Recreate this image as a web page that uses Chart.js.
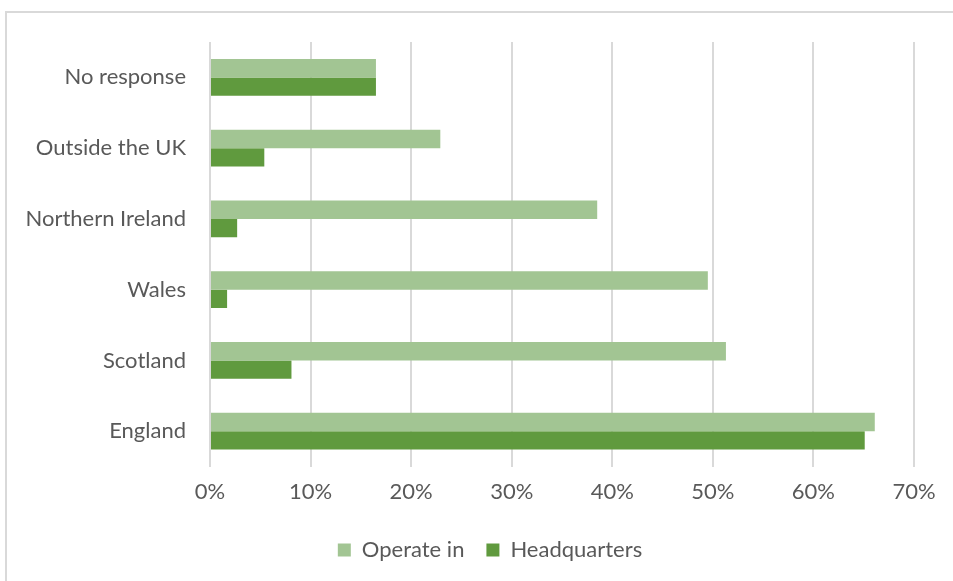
<!DOCTYPE html>
<html>
<head>
<meta charset="utf-8">
<script src="https://cdn.jsdelivr.net/npm/chart.js@4"></script>
<style>
    html, body { margin: 0; padding: 0; background: #fff; overflow: hidden; }
    #frame {
        position: absolute;
        left: 5px;
        top: 11px;
        width: 1000px;
        height: 600px;
        border: 2px solid #d9d9d9;
    }
    #wrap {
        position: absolute;
        left: 0;
        top: 0;
        width: 953px;
        height: 581px;
    }
</style>
</head>
<body>
<div id="frame"></div>
<div id="wrap"><canvas id="barChart"></canvas></div>
<script>
// Dữ liệu
const categories = ['No response', 'Outside the UK', 'Northern Ireland', 'Wales', 'Scotland', 'England'];
const operateIn = [16.5, 22.9, 38.5, 49.5, 51.3, 66.1];
const headquarters = [16.5, 5.4, 2.7, 1.7, 8.1, 65.1];
const xTicks = [0, 10, 20, 30, 40, 50, 60, 70];

Chart.defaults.font.family = "Lato, 'Liberation Sans', sans-serif";
Chart.defaults.color = '#595959';

// Dời chú giải sang phải một chút cho giống ảnh gốc
const shiftLegend = {
    id: 'shiftLegend',
    afterLayout(chart) {
        if (chart.legend) chart.legend.left += 66;
    }
};

const ctx = document.getElementById('barChart').getContext('2d');
new Chart(ctx, {
    type: 'bar',
    data: {
        labels: categories,
        datasets: [{
            label: 'Operate in',
            data: operateIn,
            backgroundColor: '#a2c593',
            borderWidth: 0,
            barPercentage: 1,
            categoryPercentage: 0.52
        }, {
            label: 'Headquarters',
            data: headquarters,
            backgroundColor: '#609a3e',
            borderWidth: 0,
            barPercentage: 1,
            categoryPercentage: 0.52
        }]
    },
    plugins: [shiftLegend],
    options: {
        indexAxis: 'y',
        responsive: true,
        maintainAspectRatio: false,
        animation: false,
        layout: { padding: { left: 0, right: 39, top: 42, bottom: 10 } },
        plugins: {
            legend: {
                position: 'bottom',
                labels: {
                    boxWidth: 13,
                    boxHeight: 13,
                    padding: 22,
                    font: { size: 22 },
                    color: '#595959'
                }
            },
            tooltip: { enabled: false }
        },
        scales: {
            x: {
                min: 0,
                max: 70,
                afterBuildTicks: axis => { axis.ticks = xTicks.map(v => ({ value: v })); },
                ticks: {
                    callback: v => v + '%',
                    font: { size: 22 },
                    color: '#595959',
                    padding: 12
                },
                grid: { color: '#d9d9d9', lineWidth: 2, drawTicks: false },
                border: { display: false }
            },
            y: {
                afterFit: axis => { axis.width = 210; },
                ticks: {
                    font: { size: 22 },
                    color: '#595959',
                    padding: 24
                },
                grid: { display: false, drawTicks: false },
                border: { display: false }
            }
        }
    }
});
</script>
</body>
</html>
